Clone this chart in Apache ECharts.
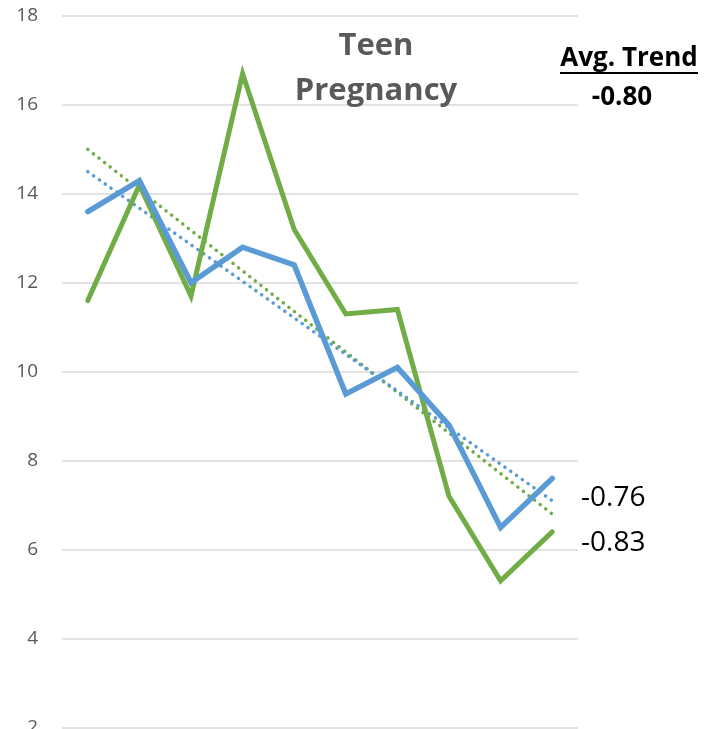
<!DOCTYPE html>
<html>
<head>
<meta charset="utf-8">
<script src="https://cdn.jsdelivr.net/npm/echarts@6/dist/echarts.min.js"></script>
<style>
  html, body { margin: 0; padding: 0; background: #fff; }
  #chart { width: 705px; height: 729px; }
</style>
</head>
<body>
<div id="chart"></div>
<script>
// data
const years = ['1', '2', '3', '4', '5', '6', '7', '8', '9', '10']
const greenValues = [11.6, 14.2, 11.7, 16.7, 13.2, 11.3, 11.4, 7.2, 5.3, 6.4]
const blueValues = [13.6, 14.3, 12.0, 12.8, 12.4, 9.5, 10.1, 8.8, 6.5, 7.6]
// dotted trend lines, start and end values
const greenTrendEnds = [15.0, 6.8]
const blueTrendEnds = [14.5, 7.1]
const yTicks = { min: 2, max: 18, interval: 2 }
const titleLines = ['Teen', 'Pregnancy']
const avgTrendLabel = 'Avg. Trend'
const avgTrendValue = '-0.80'
const blueTrendLabel = '-0.76'
const greenTrendLabel = '-0.83'

const GREEN = '#70AD47'
const BLUE = '#5B9BD5'

function trendData(ends) {
  const arr = years.map(() => null)
  arr[0] = ends[0]
  arr[arr.length - 1] = ends[1]
  return arr
}

const chart = echarts.init(document.getElementById('chart'))

const option = {
  animation: false,
  grid: { left: 62, right: 127, top: 16, bottom: 1.5, outerBoundsMode: 'none', containLabel: false },
  xAxis: {
    type: 'category',
    data: years,
    axisLine: { show: false },
    axisTick: { show: false },
    axisLabel: { show: false }
  },
  yAxis: {
    type: 'value',
    min: yTicks.min,
    max: yTicks.max,
    interval: yTicks.interval,
    axisLine: { show: false },
    axisTick: { show: false },
    axisLabel: {
      color: '#595959',
      fontSize: 19,
      fontFamily: 'Open Sans',
      margin: 24
    },
    splitLine: { lineStyle: { color: '#d9d9d9', width: 1.5 } }
  },
  series: [
    {
      type: 'line',
      data: trendData(greenTrendEnds),
      connectNulls: true,
      symbol: 'none',
      lineStyle: { color: GREEN, width: 3.5, type: [0.1, 7], cap: 'round' },
      z: 1
    },
    {
      type: 'line',
      data: trendData(blueTrendEnds),
      connectNulls: true,
      symbol: 'none',
      lineStyle: { color: BLUE, width: 3.5, type: [0.1, 7], cap: 'round' },
      z: 1
    },
    {
      type: 'line',
      data: greenValues,
      symbol: 'none',
      lineStyle: { color: GREEN, width: 5, cap: 'round', join: 'miter' },
      z: 2
    },
    {
      type: 'line',
      data: blueValues,
      symbol: 'none',
      lineStyle: { color: BLUE, width: 5.5, cap: 'round', join: 'miter' },
      z: 3
    }
  ],
  graphic: [
    {
      type: 'text', x: 376, y: 46,
      style: {
        text: titleLines[0], fill: '#595959', font: 'bold 31px "Open Sans"',
        align: 'center', verticalAlign: 'middle'
      },
      z: 10
    },
    {
      type: 'text', x: 376, y: 91,
      style: {
        text: titleLines[1], fill: '#595959', font: 'bold 31px "Open Sans"',
        align: 'center', verticalAlign: 'middle'
      },
      z: 10
    },
    {
      type: 'text', x: 629, y: 59,
      style: { text: avgTrendLabel, fill: '#000', font: 'bold 26px "Open Sans"', align: 'center', verticalAlign: 'middle' }
    },
    {
      type: 'line',
      shape: { x1: 560, y1: 73, x2: 698, y2: 73 },
      style: { stroke: '#000', lineWidth: 2 }
    },
    {
      type: 'text', x: 622, y: 98,
      style: { text: avgTrendValue, fill: '#000', font: 'bold 26px "Open Sans"', align: 'center', verticalAlign: 'middle' }
    },
    {
      type: 'text', x: 581, y: 498,
      style: { text: blueTrendLabel, fill: '#000', font: '28px "Open Sans"', verticalAlign: 'middle' }
    },
    {
      type: 'text', x: 581, y: 543,
      style: { text: greenTrendLabel, fill: '#000', font: '28px "Open Sans"', verticalAlign: 'middle' }
    }
  ]
}

chart.setOption(option)
</script>
</body>
</html>
